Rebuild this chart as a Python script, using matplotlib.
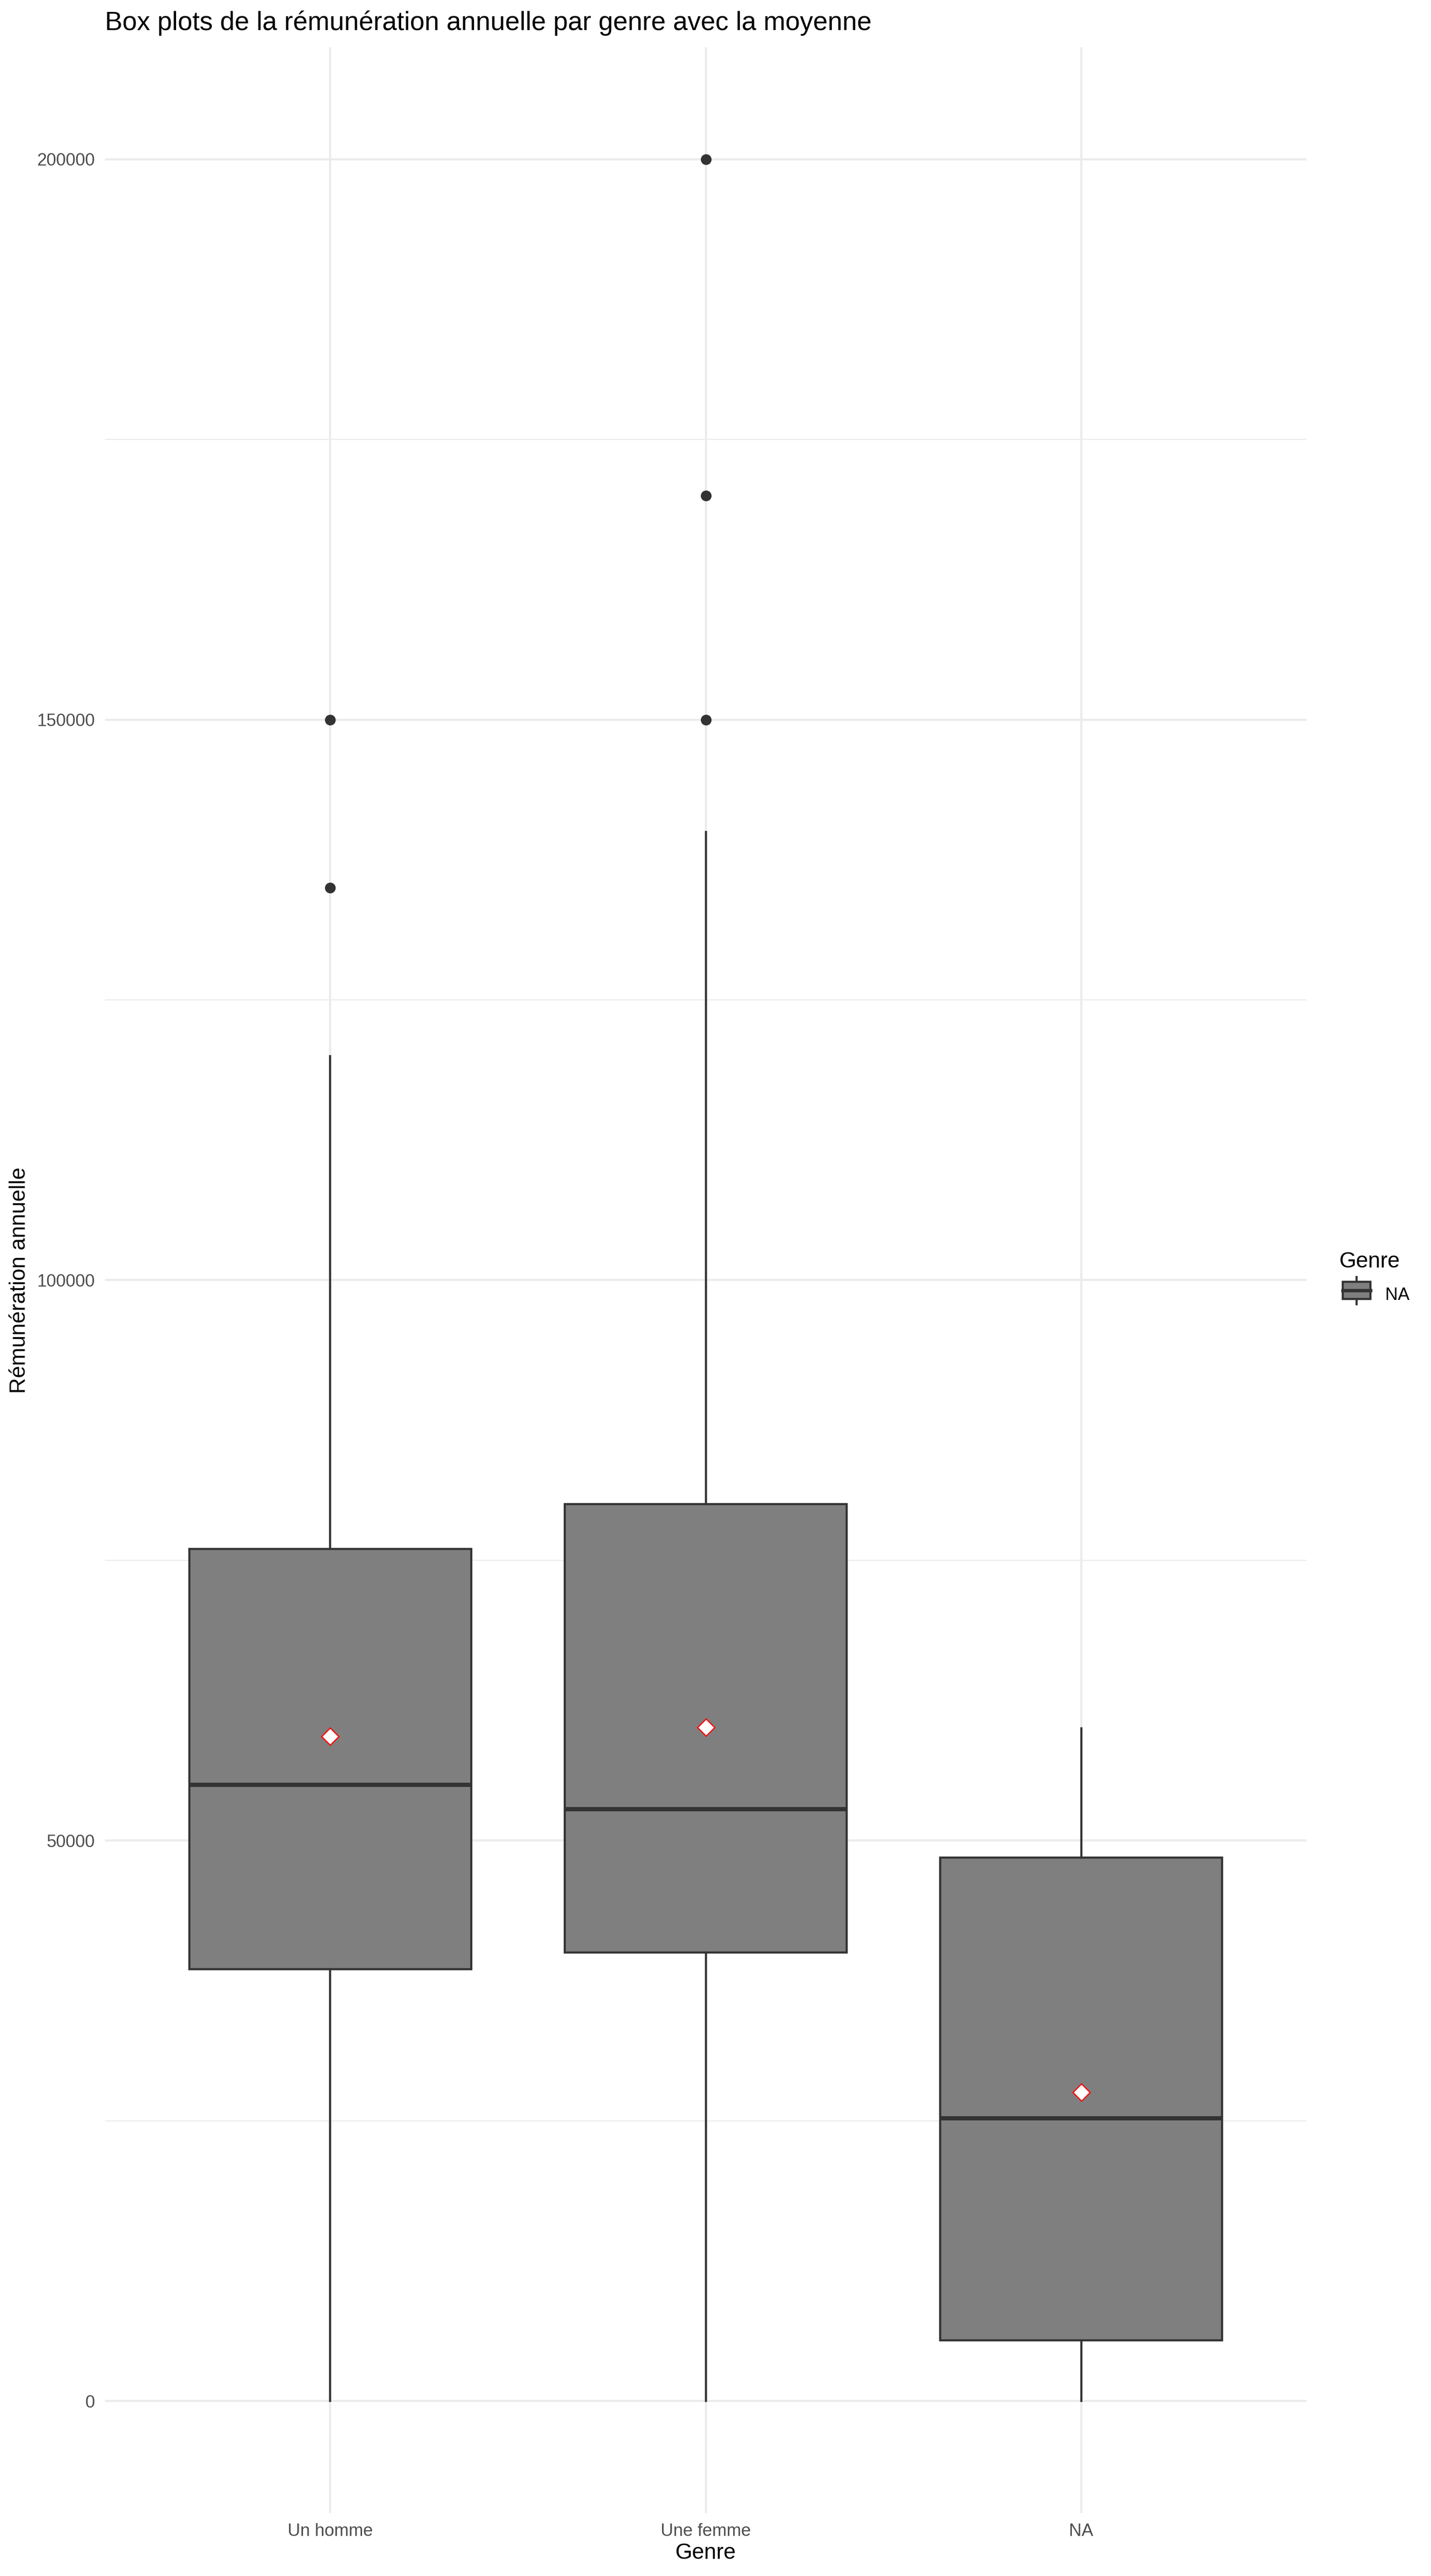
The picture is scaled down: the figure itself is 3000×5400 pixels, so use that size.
import numpy as np
import matplotlib
matplotlib.use('Agg')
import matplotlib.pyplot as plt
from matplotlib.patches import Patch, Rectangle
from matplotlib.lines import Line2D
from matplotlib.legend_handler import HandlerBase

plt.rcParams['font.family'] = ['Liberation Sans', 'DejaVu Sans']

# values
categories = ['Un homme', 'Une femme', 'NA']
q1 = [38500, 40000, 5400]
medians = [55000, 52800, 25250]
q3 = [76000, 80000, 48500]
whisker_low = [0, 0, 0]
whisker_high = [120000, 140000, 60000]
means = [59300, 60100, 27550]
outliers = [[135000, 150000], [150000, 170000, 200000], []]

y_ticks = [0, 50000, 100000, 150000, 200000]
y_tick_labels = ['0', '50000', '100000', '150000', '200000']
y_minor = [25000, 75000, 125000, 175000]

EDGE = '#333333'
FILL = '#7F7F7F'
GRID = '#EBEBEB'
LW = 1.07


class BoxHandler(HandlerBase):
    # draws a small boxplot glyph as legend key
    def create_artists(self, legend, orig_handle, xdescent, ydescent,
                       width, height, fontsize, trans):
        x0 = -xdescent
        y0 = -ydescent
        h = height + ydescent
        cx = x0 + width / 2
        whisk = Line2D([cx, cx], [y0 + 0.1 * h, y0 + 0.9 * h],
                       color=EDGE, lw=LW, transform=trans)
        box = Rectangle((x0 + 0.1 * width, y0 + 0.25 * h), 0.8 * width,
                        0.5 * h, facecolor=FILL, edgecolor=EDGE, lw=LW,
                        transform=trans)
        med = Line2D([x0 + 0.1 * width, x0 + 0.9 * width],
                     [y0 + 0.5 * h, y0 + 0.5 * h],
                     color=EDGE, lw=LW * 1.6, transform=trans)
        return [whisk, box, med]


stats = []
for i in range(len(categories)):
    stats.append({'label': categories[i], 'q1': q1[i], 'med': medians[i],
                  'q3': q3[i], 'whislo': whisker_low[i],
                  'whishi': whisker_high[i], 'mean': means[i],
                  'fliers': outliers[i]})

fig = plt.figure(figsize=(10, 18), dpi=300)
ax = fig.add_axes([220 / 3000, 1 - 5268 / 5400, 2519 / 3000, (5268 - 99) / 5400])

ax.bxp(stats, positions=[1, 2, 3], widths=0.75, patch_artist=True,
       showcaps=False, showmeans=True,
       boxprops=dict(facecolor=FILL, edgecolor=EDGE, linewidth=LW),
       medianprops=dict(color=EDGE, linewidth=LW * 2),
       whiskerprops=dict(color=EDGE, linewidth=LW),
       flierprops=dict(marker='o', markerfacecolor=EDGE, markeredgecolor=EDGE,
                       markersize=4.4),
       meanprops=dict(marker='D', markerfacecolor='white',
                      markeredgecolor='red', markersize=6.2,
                      markeredgewidth=0.6))

ax.set_xlim(0.4, 3.6)
ax.set_ylim(-10000, 210000)
ax.set_xticks([1, 2, 3])
ax.set_xticklabels(categories)
ax.set_yticks(y_ticks)
ax.set_yticklabels(y_tick_labels)
ax.set_yticks(y_minor, minor=True)

ax.set_axisbelow(True)
ax.grid(True, which='major', color=GRID, linewidth=LW)
ax.grid(True, which='minor', axis='y', color=GRID, linewidth=LW / 2)
for s in ax.spines.values():
    s.set_visible(False)
ax.tick_params(axis='both', which='both', length=0, labelsize=8.8,
               labelcolor='#4D4D4D', pad=5)

ax.set_xlabel('Genre', fontsize=11)
ax.set_ylabel('Rémunération annuelle', fontsize=11)
ax.xaxis.label.set_va('center')
ax.xaxis.set_label_coords(0.5, -84 / 5169)
ax.yaxis.label.set_va('center')
ax.yaxis.set_label_coords(-179 / 2519, 0.5)

fig.text(220 / 3000, 1 - 63 / 5400,
         'Box plots de la rémunération annuelle par genre avec la moyenne',
         fontsize=13.2, ha='left', va='baseline')

handle = Patch(facecolor=FILL, edgecolor=EDGE, label='NA')
leg = fig.legend(handles=[handle], labels=['NA'], title='Genre',
                 handler_map={Patch: BoxHandler()},
                 loc='center left', bbox_to_anchor=(2808 / 3000, 0.5033),
                 frameon=False, fontsize=8.8, title_fontsize=11,
                 handlelength=1.96, handleheight=1.96, handletextpad=0.65,
                 borderpad=0, borderaxespad=0, labelspacing=0.5,
                 alignment='left')

fig.savefig('out.png', dpi=300, facecolor='white')
